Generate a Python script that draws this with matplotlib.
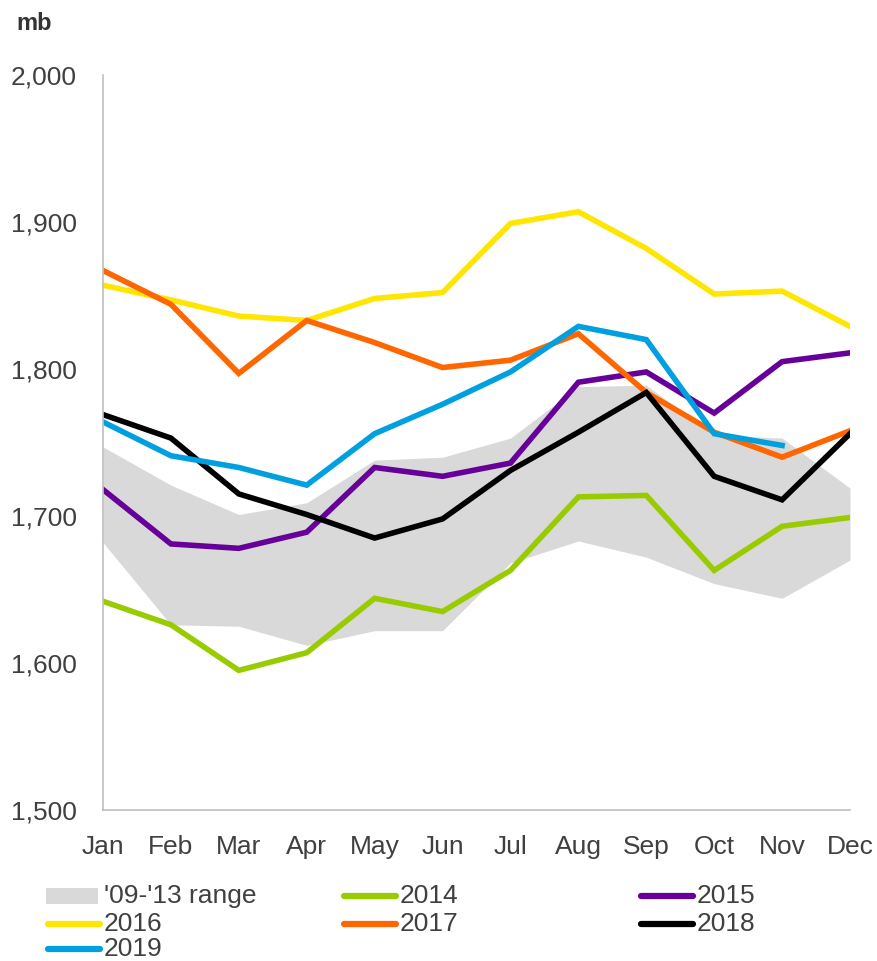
import matplotlib.pyplot as plt
from matplotlib.patches import Rectangle
from matplotlib.lines import Line2D

plt.rcParams['font.family'] = ['Liberation Sans', 'DejaVu Sans']

months = ['Jan', 'Feb', 'Mar', 'Apr', 'May', 'Jun', 'Jul', 'Aug', 'Sep', 'Oct', 'Nov', 'Dec']

range_low = [1682, 1626, 1625, 1612, 1622, 1622, 1668, 1683, 1672, 1654, 1644, 1670]
range_high = [1747, 1721, 1701, 1709, 1738, 1740, 1753, 1788, 1789, 1755, 1753, 1719]

y2014 = [1642, 1626, 1595, 1607, 1644, 1635, 1663, 1713, 1714, 1663, 1693, 1699]
y2015 = [1718, 1681, 1678, 1689, 1733, 1727, 1736, 1791, 1798, 1770, 1805, 1811]
y2016 = [1857, 1847, 1836, 1833, 1848, 1852, 1899, 1907, 1882, 1851, 1853, 1829]
y2017 = [1867, 1844, 1797, 1833, 1818, 1801, 1806, 1824, 1784, 1757, 1740, 1758]
y2018 = [1769, 1753, 1715, 1701, 1685, 1698, 1731, 1757, 1784, 1727, 1711, 1756]
y2019 = [1764, 1741, 1733, 1721, 1756, 1776, 1798, 1829, 1820, 1756, 1748]

series = [
    ('2014', y2014, '#99cc00'),
    ('2015', y2015, '#660099'),
    ('2016', y2016, '#ffe600'),
    ('2017', y2017, '#ff6600'),
    ('2018', y2018, '#000000'),
    ('2019', y2019, '#00a0e0'),
]

W, H = 877, 961
fig = plt.figure(figsize=(W / 100, H / 100), dpi=100)
ax = fig.add_axes([103 / W, 1 - 810 / H, (850 - 103) / W, (810 - 75) / H])

x = list(range(12))
ax.fill_between(x, range_low, range_high, color='#d9d9d9', lw=0)
for name, vals, col in series:
    ax.plot(x[:len(vals)], vals, color=col, lw=4, solid_joinstyle='miter')

ax.set_xlim(0, 11)
ax.set_ylim(1500, 2000)
ax.set_yticks([1500, 1600, 1700, 1800, 1900, 2000])
ax.set_yticklabels(['1,500', '1,600', '1,700', '1,800', '1,900', '2,000'])
ax.set_xticks(x)
ax.set_xticklabels(months)
ax.tick_params(length=0, labelsize=19, colors='#404040')
ax.tick_params(axis='x', pad=18)
ax.tick_params(axis='y', pad=19)
for s in ['top', 'right']:
    ax.spines[s].set_visible(False)
for s in ['left', 'bottom']:
    ax.spines[s].set_color('#bfbfbf')
    ax.spines[s].set_linewidth(1.2)

fig.text(16 / W, 1 - 24 / H, 'mb', fontsize=17, fontweight='bold', va='center', color='#333333')

# legend, row by row in three columns
entries = [("'09-'13 range", None)] + [(n, c) for n, v, c in series]
col_x = [46, 342, 639]
row_y = [896, 924, 949]
for i, (label, col) in enumerate(entries):
    px = col_x[i % 3]
    py = row_y[i // 3]
    if col is None:
        fig.add_artist(Rectangle((px / W, 1 - (py + 8) / H), 52 / W, 16 / H,
                                 transform=fig.transFigure, color='#d9d9d9', lw=0))
    else:
        fig.add_artist(Line2D([(px + 2) / W, (px + 54) / W], [1 - py / H, 1 - py / H],
                              transform=fig.transFigure, color=col, lw=4.5, solid_capstyle='round'))
    fig.text((px + 58) / W, 1 - py / H, label, fontsize=19, va='center', color='#404040')

fig.savefig('out.png', dpi=100)
